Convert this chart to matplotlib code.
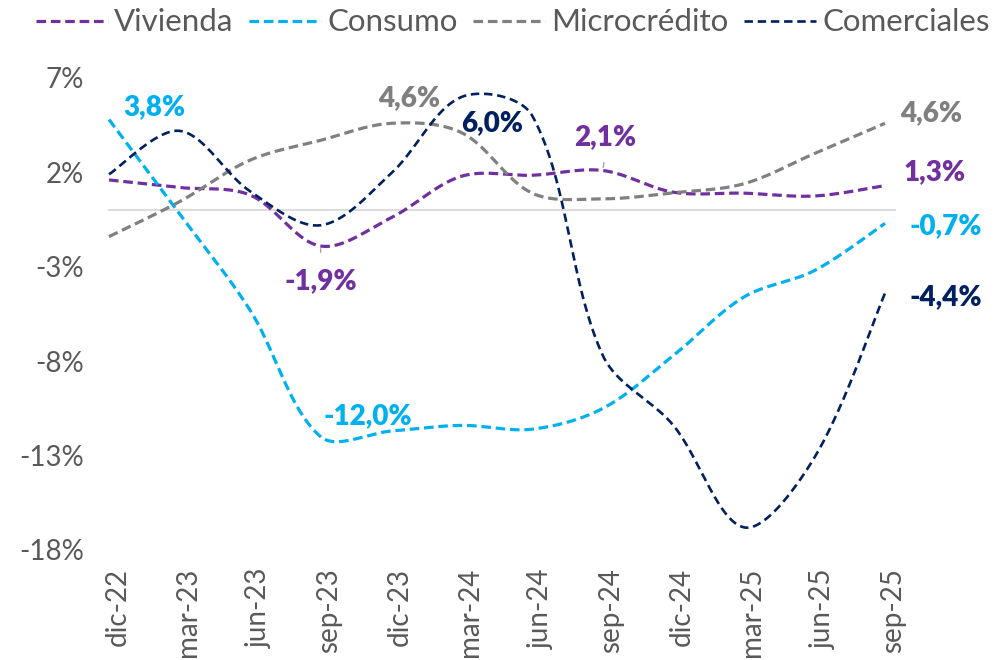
import numpy as np
import matplotlib.pyplot as plt
from matplotlib.transforms import ScaledTranslation

plt.rcParams['font.family'] = ['Lato', 'DejaVu Sans']

# Datos (variacion anual, %)
periodos = ['dic-22', 'mar-23', 'jun-23', 'sep-23', 'dic-23', 'mar-24',
            'jun-24', 'sep-24', 'dic-24', 'mar-25', 'jun-25', 'sep-25']
vivienda = [1.6, 1.2, 0.8, -1.9, -0.4, 1.8, 1.85, 2.1, 0.95, 0.9, 0.75, 1.3]
consumo = [4.8, -0.2, -5.3, -12.0, -11.7, -11.4, -11.6, -10.5, -7.7, -4.6, -3.2, -0.7]
microcredito = [-1.4, 0.45, 2.65, 3.7, 4.6, 4.1, 0.9, 0.6, 0.92, 1.4, 3.0, 4.6]
comerciales = [1.9, 4.2, 1.0, -0.8, 1.95, 6.0, 5.0, -7.7, -11.4, -16.8, -13.1, -4.4]

y_ticks = [-18, -13, -8, -3, 2, 7]

# etiquetas de datos: (serie, indice, texto)
etiquetas = [
    ('consumo', 0, '3,8%'),
    ('consumo', 3, '-12,0%'),
    ('vivienda', 3, '-1,9%'),
    ('microcredito', 4, '4,6%'),
    ('comerciales', 5, '6,0%'),
    ('vivienda', 7, '2,1%'),
    ('microcredito', 11, '4,6%'),
    ('vivienda', 11, '1,3%'),
    ('consumo', 11, '-0,7%'),
    ('comerciales', 11, '-4,4%'),
]

series = {
    'vivienda': ('Vivienda', vivienda, '#7030A0', 2.3, (3.0, 1.5)),
    'consumo': ('Consumo', consumo, '#00B0F0', 2.3, (3.0, 1.5)),
    'microcredito': ('Microcrédito', microcredito, '#808080', 2.3, (3.0, 1.5)),
    'comerciales': ('Comerciales', comerciales, '#002060', 1.9, (3.2, 1.8)),
}

# offsets de las etiquetas en puntos
offsets = [(33, 9), (34, 15), (0, -25), (13, 18), (22, -19), (2, 24),
           (33, 7), (36, 10), (44, -2), (44, -3)]


def curva_suave(ax, xs, ys, pasos=40):
    # suavizado tipo Excel: bezier con brazos ponderados por longitud de tramo
    p = ax.transData.transform(np.column_stack([xs, ys]))
    n = len(p)
    tramos = []
    t = np.linspace(0, 1, pasos)[:, None]
    for i in range(n - 1):
        p1, p2 = p[i], p[i + 1]
        d12 = np.hypot(*(p2 - p1))
        if i > 0:
            p0 = p[i - 1]
            d01 = np.hypot(*(p1 - p0))
            c1 = p1 + (p2 - p0) * d12 / (d01 + d12) / 3
        else:
            c1 = p1 + (p2 - p1) / 6
        if i + 2 < n:
            p3 = p[i + 2]
            d23 = np.hypot(*(p3 - p2))
            c2 = p2 - (p3 - p1) * d12 / (d12 + d23) / 3
        else:
            c2 = p2 - (p2 - p1) / 6
        seg = (1 - t) ** 3 * p1 + 3 * (1 - t) ** 2 * t * c1 + 3 * (1 - t) * t ** 2 * c2 + t ** 3 * p2
        tramos.append(seg if i == 0 else seg[1:])
    return ax.transData.inverted().transform(np.vstack(tramos))


fig = plt.figure(figsize=(9.96, 6.6), dpi=100)
ax = fig.add_axes([109 / 996, 110 / 660, 776 / 996, 472 / 660])
x = np.arange(len(periodos))
ax.set_xlim(0, len(periodos) - 1)
ax.set_ylim(-18, 7)

ax.axhline(0, color='#D9D9D9', lw=1.3, xmax=1.013, clip_on=False, zorder=1)

for clave, (nombre, valores, color, lw, dash) in series.items():
    curva = curva_suave(ax, x, valores)
    ax.plot(curva[:, 0], curva[:, 1], color=color, lw=lw, dashes=dash,
            label=nombre, clip_on=False, zorder=3)

for (clave, i, texto), off in zip(etiquetas, offsets):
    color = series[clave][2]
    if color == '#808080':
        color = '#7F7F7F'
    extra = {}
    if texto == '-1,9%':
        extra = dict(arrowprops=dict(arrowstyle='-', color='#A6A6A6', lw=1,
                                     relpos=(0.5, 1.0), shrinkA=9, shrinkB=2))
    elif texto == '2,1%':
        extra = dict(arrowprops=dict(arrowstyle='-', color='#A6A6A6', lw=1,
                                     relpos=(0.5, 0.0), shrinkA=7, shrinkB=2))
    ax.annotate(texto, xy=(i, series[clave][1][i]), xytext=off,
                textcoords='offset points', ha='center', va='center',
                fontsize=20, fontweight='heavy', color=color,
                annotation_clip=False, zorder=5, **extra)

for s in ax.spines.values():
    s.set_visible(False)

ax.set_yticks(y_ticks)
ax.set_yticklabels([f'{v}%' for v in y_ticks])
ax.set_xticks(x)
ax.set_xticklabels(periodos, rotation=90, va='top')
ax.tick_params(axis='y', length=0, pad=18, labelsize=20, labelcolor='#595959')
ax.tick_params(axis='x', length=0, pad=13, labelsize=20, labelcolor='#595959')
for lab in ax.get_xticklabels():
    lab.set_transform(lab.get_transform() + ScaledTranslation(6 / 72, 0, fig.dpi_scale_trans))

fig.legend(loc='center', bbox_to_anchor=(0.515, 0.966), ncol=4, frameon=False,
           fontsize=22.5, handlelength=2.3, handletextpad=0.2, columnspacing=0.5,
           labelcolor='#595959', borderaxespad=0, borderpad=0)

fig.savefig('out.png', dpi=100)
